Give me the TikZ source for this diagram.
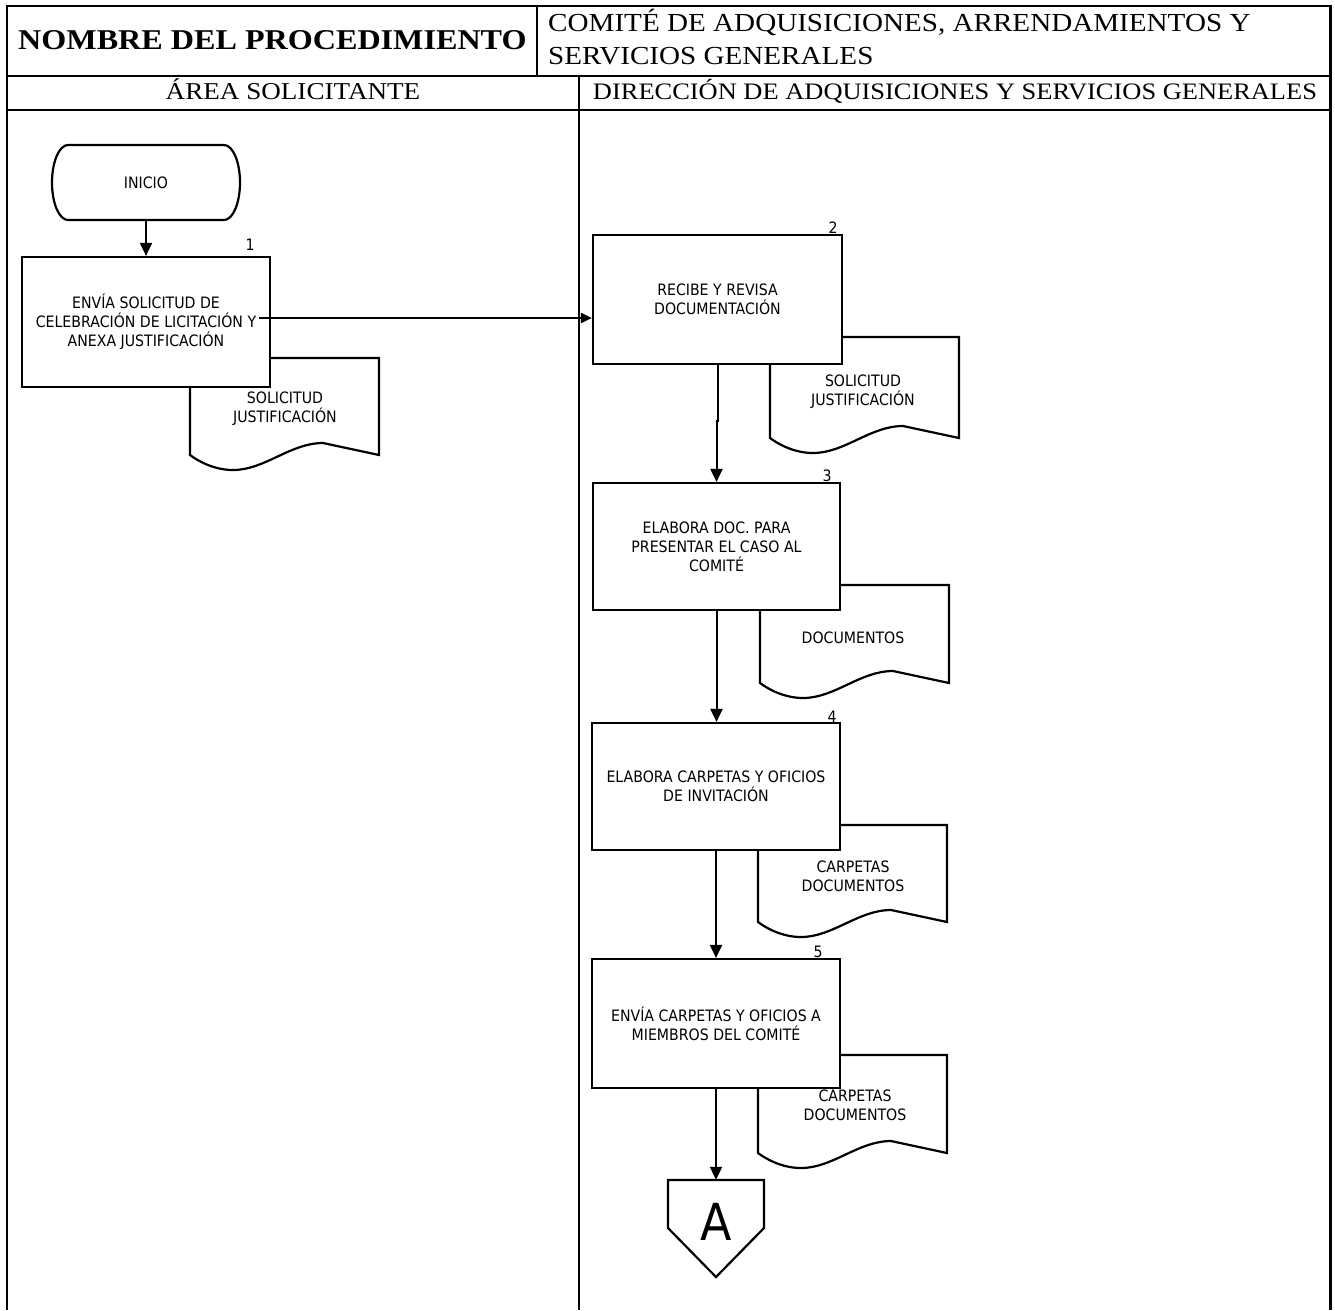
\documentclass[tikz,border=0pt]{standalone}
\usepackage{fontspec}
\usetikzlibrary{arrows.meta}
\newfontfamily\hdrfont[FakeStretch=1.12]{Liberation Serif}
\newfontfamily\flowfont[FakeStretch=0.9]{DejaVu Sans}
% document symbol: left x, top y, bottom y of the left edge
\newcommand{\flowdoc}[3]{%
  \draw[docline] (#1,#3) -- (#1,#2) -- (#1+189,#2) -- (#1+189,#3)
    -- (#1+133,#3-12) .. controls (#1+100,#3-12) and (#1+75,#3+15) .. (#1+43,#3+15)
    .. controls (#1+24,#3+15) and (#1+8,#3+6) .. (#1,#3) -- cycle;}
\begin{document}
\begin{tikzpicture}[x=1pt,y=-1pt,
  frame/.style={line width=2.2pt},
  docline/.style={line width=2.2pt,line join=miter},
  flowtxt/.style={font=\flowfont\fontsize{15.7}{19}\selectfont},
  stepbox/.style={flowtxt,draw,fill=white,line width=2.2pt,inner sep=0pt,align=center},
  doctext/.style={flowtxt,align=center,inner sep=0pt},
  numtext/.style={flowtxt,inner sep=0pt},
  flow/.style={line width=2pt,-{Triangle[length=13pt,width=12pt]}},
  flowsmall/.style={line width=2pt,-{Triangle[length=11pt,width=10pt]}}]
\useasboundingbox (0,0) rectangle (1335,1310);

% table frame and lanes
\draw[frame] (7,1310) -- (7,6) -- (1330.5,6) -- (1330.5,1310);
\draw[frame] (7,76) -- (1330.5,76);
\draw[frame] (7,110) -- (1330.5,110);
\draw[frame] (537,6) -- (537,76);
\draw[frame] (579,76) -- (579,1310);

% header texts
\node[anchor=base west,inner sep=0pt,font=\hdrfont\bfseries\fontsize{28.7}{33}\selectfont]
  (title) at (18,49) {NOMBRE DEL PROCEDIMIENTO};
\node[anchor=base west,inner sep=0pt,font=\hdrfont\fontsize{26}{33}\selectfont]
  (procA) at (548,31) {COMITÉ DE ADQUISICIONES, ARRENDAMIENTOS Y};
\node[anchor=base west,inner sep=0pt,font=\hdrfont\fontsize{26}{33}\selectfont]
  (procB) at (548,64) {SERVICIOS GENERALES};
\node[anchor=base,inner sep=0pt,font=\hdrfont\fontsize{24.2}{28}\selectfont]
  (laneA) at (293,99) {ÁREA SOLICITANTE};
\node[anchor=base,inner sep=0pt,font=\hdrfont\fontsize{23.6}{28}\selectfont]
  (laneB) at (955,99) {DIRECCIÓN DE ADQUISICIONES Y SERVICIOS GENERALES};

% start terminal
\node[numtext,minimum width=188pt,minimum height=75pt] (inicio) at (146,182.5) {INICIO};
\draw[docline] (68,145) -- (224,145) .. controls (232.8,145) and (240,161.8) .. (240,182.5)
  .. controls (240,203.2) and (232.8,220) .. (224,220) -- (68,220)
  .. controls (59.2,220) and (52,203.2) .. (52,182.5)
  .. controls (52,161.8) and (59.2,145) .. (68,145) -- cycle;

% documents
\flowdoc{190}{358}{455}
\node[doctext] (d1) at (285,409) {SOLICITUD\\JUSTIFICACIÓN};
\flowdoc{770}{337}{438}
\node[doctext] (d2) at (863,392) {SOLICITUD\\JUSTIFICACIÓN};
\flowdoc{760}{585}{683}
\node[doctext] (d3) at (853,638) {DOCUMENTOS};
\flowdoc{758}{825}{922}
\node[doctext] (d4) at (853,876.5) {CARPETAS\\DOCUMENTOS};
\flowdoc{758}{1055}{1153}
\node[doctext] (d5) at (855,1105) {CARPETAS\\DOCUMENTOS};

% process steps
\node[stepbox,minimum width=248pt,minimum height=130pt] (b1) at (146,322)
  {ENVÍA SOLICITUD DE\\CELEBRACIÓN DE LICITACIÓN Y\\ANEXA JUSTIFICACIÓN};
\node[stepbox,minimum width=249pt,minimum height=129pt] (b2) at (717.5,299.5)
  {RECIBE Y REVISA\\DOCUMENTACIÓN};
\node[stepbox,minimum width=247pt,minimum height=127pt] (b3) at (716.5,546.5)
  {ELABORA DOC. PARA\\PRESENTAR EL CASO AL\\COMITÉ};
\node[stepbox,minimum width=248pt,minimum height=127pt] (b4) at (716,786.5)
  {ELABORA CARPETAS Y OFICIOS\\DE INVITACIÓN};
\node[stepbox,minimum width=248pt,minimum height=129pt] (b5) at (716,1023.5)
  {ENVÍA CARPETAS Y OFICIOS A\\MIEMBROS DEL COMITÉ};

% step numbers
\node[numtext] (n1) at (250,245) {1};
\node[numtext] (n2) at (833,228) {2};
\node[numtext] (n3) at (827,476) {3};
\node[numtext] (n4) at (832,717) {4};
\node[numtext] (n5) at (818,952) {5};

% off-page connector
\node[minimum width=96pt,minimum height=97pt,inner sep=0pt] (conA) at (716,1228.5) {};
\draw[docline] (668,1180) -- (764,1180) -- (764,1228) -- (716,1277) -- (668,1228) -- cycle;
\node[inner sep=0pt,font=\flowfont\fontsize{51}{55}\selectfont] (alabel) at (716,1221.5) {A};

% connectors
\draw[flow] (inicio.south) -- (b1.north);
\draw[flowsmall] ([xshift=-12pt,yshift=4pt]b1.east) coordinate (s12) -- (s12 -| b2.west);
\draw[flow] (b2.south) -- ++(0,56) -| (b3.north);
\draw[flow] (b3.south) -- (b3.south |- b4.north);
\draw[flow] (b4.south) -- (b5.north);
\draw[flow] (b5.south) -- (conA.north);
\end{tikzpicture}
\end{document}
